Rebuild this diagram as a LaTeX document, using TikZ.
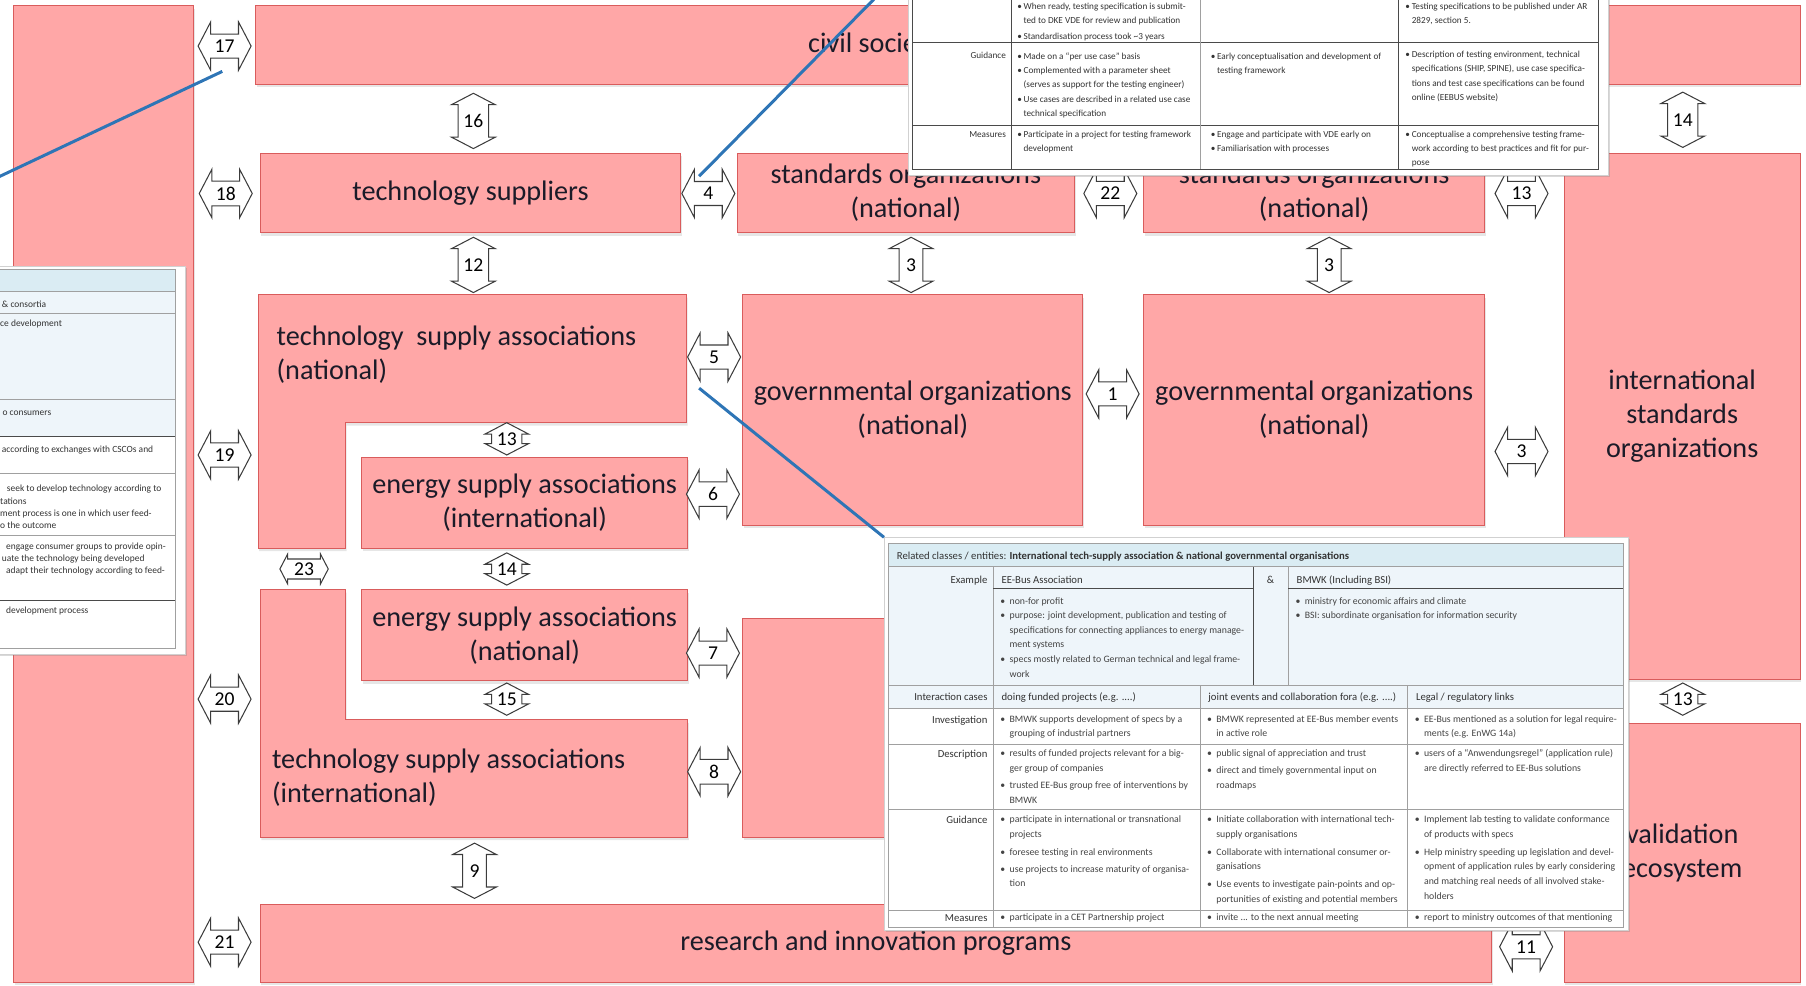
\documentclass[tikz,border=0pt]{standalone}
\usepackage{fontspec}
\setmainfont{Carlito}
\usetikzlibrary{shapes.arrows,shadows,calc}

\definecolor{boxfill}{HTML}{FFA7A7}
\definecolor{boxline}{HTML}{D95C5C}
\definecolor{linkblue}{HTML}{2E75B6}
\definecolor{arrline}{HTML}{3C3C3C}
\definecolor{hdrblue}{HTML}{DAECF3}
\definecolor{rowblue}{HTML}{EEF5FA}
\definecolor{gridgray}{HTML}{A0A0A0}
\definecolor{griddark}{HTML}{4A4A4A}
\definecolor{tabtext}{HTML}{333333}
\definecolor{bultext}{HTML}{444444}
\definecolor{labeltext}{HTML}{1B1B28}

% bullets for the small tables (top/left and bottom panel)
\newcommand{\tbul}{\makebox[5.5pt][l]{•}}
\newcommand{\tind}{\hspace*{5.5pt}}
\newcommand{\bbul}{\makebox[8pt][l]{•}}
\newcommand{\bind}{\hspace*{8pt}}

\tikzset{
  pinkbox/.style={draw=boxline, fill=boxfill, line width=0.8pt,
    drop shadow={shadow xshift=1pt, shadow yshift=-2.5pt, opacity=0.2}},
  boxnode/.style={pinkbox, inner sep=0pt, align=center, text=labeltext,
    font=\fontsize{24.5pt}{29.5pt}\selectfont},
  boxtext/.style={inner sep=0pt, align=left, anchor=west, text=labeltext,
    font=\fontsize{24.5pt}{29.5pt}\selectfont},
  dblarr/.style={double arrow, draw=arrline, fill=white, line width=0.9pt, inner sep=0pt,
    double arrow tip angle=125, text=black, font=\fontsize{17pt}{20pt}\selectfont},
  harr/.style={dblarr, double arrow head extend=6pt, minimum height=46pt, minimum width=42pt},
  sharr/.style={dblarr, double arrow head extend=3pt, minimum height=42pt, minimum width=26pt},
  varr/.style={dblarr, rotate=90, double arrow head extend=4pt, minimum height=48pt, minimum width=38pt},
  svarr/.style={dblarr, rotate=90, double arrow head extend=4pt, minimum height=28pt, minimum width=38pt},
  bluelink/.style={draw=linkblue, line width=2.6pt},
  panel/.style={fill=white, draw=black!18, line width=0.6pt, inner sep=0pt, outer sep=0pt,
    anchor=north west, drop shadow={shadow xshift=1.5pt, shadow yshift=-1.5pt, opacity=0.3}},
  tabline/.style={draw=gridgray, line width=0.6pt},
  tabdark/.style={draw=griddark, line width=0.9pt},
  bcell/.style={anchor=north west, inner sep=0pt, align=left, text=bultext,
    font=\fontsize{8.5pt}{12.7pt}\selectfont},
  bbline/.style={anchor=base west, inner sep=0pt, text=bultext, font=\fontsize{8.5pt}{12.7pt}\selectfont},
  bline/.style={anchor=base west, inner sep=0pt, text=tabtext, font=\fontsize{9.3pt}{12.7pt}\selectfont},
  blabel/.style={anchor=base east, inner sep=0pt, text=tabtext, font=\fontsize{9.3pt}{12.7pt}\selectfont},
  tcell/.style={anchor=north west, inner sep=0pt, align=left, text=tabtext,
    font=\fontsize{8pt}{12.4pt}\selectfont},
  tlabel/.style={anchor=base east, inner sep=0pt, text=tabtext, font=\fontsize{8pt}{12.4pt}\selectfont},
  lcell/.style={anchor=north west, inner sep=0pt, align=left, text=tabtext,
    font=\fontsize{8.2pt}{10.5pt}\selectfont},
  lline/.style={anchor=base west, inner sep=0pt, text=tabtext, font=\fontsize{8.2pt}{10.5pt}\selectfont},
}

\begin{document}
\begin{tikzpicture}[x=1pt,y=-1pt]
\useasboundingbox (0,0) rectangle (1568,856);
\clip (0,0) rectangle (1568,856);

% ---------- actor boxes ----------
\node[boxnode, minimum width=156pt, minimum height=848pt] (leftcol) at (90,429) {};
\node[boxnode, minimum width=1073pt, minimum height=68pt] (civil) at (758.5,39) {civil society};
\node[boxnode, minimum width=205pt, minimum height=68pt] (topright) at (1460.5,39) {};
\node[boxnode, minimum width=365pt, minimum height=69pt] (techsup) at (408.5,167.5) {technology suppliers};
\node[boxnode, minimum width=293pt, minimum height=69pt] (stdA) at (786.5,167.5) {standards organizations\\(national)};
\node[boxnode, minimum width=296pt, minimum height=69pt] (stdB) at (1141,167.5) {standards organizations\\(national)};
\node[boxnode, minimum width=205pt, minimum height=457pt] (intstd) at (1460.5,361.5) {international\\standards\\organizations};

\draw[pinkbox] (224,256) -- (596,256) -- (596,367) -- (300,367) -- (300,476) -- (224,476) -- cycle;
\node[boxtext] (tsaNat) at (240,307.5) {technology\ \ supply associations\\(national)};

\node[boxnode, minimum width=283pt, minimum height=79pt] (esaInt) at (455.5,436.5) {energy supply associations\\(international)};
\node[boxnode, minimum width=295pt, minimum height=200pt] (govA) at (792.5,356) {governmental organizations\\(national)};
\node[boxnode, minimum width=296pt, minimum height=200pt] (govB) at (1141,356) {governmental organizations\\(national)};

\draw[pinkbox] (226,512) -- (300,512) -- (300,625) -- (597,625) -- (597,727) -- (226,727) -- cycle;
\node[boxtext] (tsaInt) at (236,675.5) {technology supply associations\\(international)};

\node[boxnode, minimum width=283pt, minimum height=79pt] (esaNat) at (455.5,551.5) {energy supply associations\\(national)};
\node[boxnode, minimum width=295pt, minimum height=190pt] (midbox) at (792.5,632) {};
\node[boxnode, minimum width=205pt, minimum height=225pt] (valid) at (1460.5,740.5) {validation\\ecosystem};
\node[boxnode, minimum width=1069pt, minimum height=68pt] (research) at (760.5,819) {research and innovation programs};

% ---------- numbered interaction arrows ----------
\node[harr] (a17) at (195,40) {17};
\node[varr] (a16) at (411,105) {\rotatebox{-90}{16}};
\node[harr] (a18) at (196,168) {18};
\node[harr] (a4) at (615,168) {4};
\node[harr] (a22) at (964,168) {22};
\node[harr] (a13t) at (1321,168) {13};
\node[varr] (a14t) at (1461,104) {\rotatebox{-90}{14}};
\node[varr] (a12) at (411,230) {\rotatebox{-90}{12}};
\node[varr] (a3a) at (791,230) {\rotatebox{-90}{3}};
\node[varr] (a3b) at (1154,230) {\rotatebox{-90}{3}};
\node[harr] (a5) at (620,310) {5};
\node[harr] (a1) at (966,342) {1};
\node[harr] (a3c) at (1321,392) {3};
\node[harr] (a19) at (195,395) {19};
\node[svarr] (a13m) at (440,381) {\rotatebox{-90}{13}};
\node[harr] (a6) at (619,429) {6};
\node[sharr] (a23) at (264,494) {23};
\node[svarr] (a14m) at (440,494) {\rotatebox{-90}{14}};
\node[harr] (a7) at (619,567) {7};
\node[harr] (a20) at (195,607) {20};
\node[svarr] (a15) at (440,607) {\rotatebox{-90}{15}};
\node[svarr] (a13b) at (1461,607) {\rotatebox{-90}{13}};
\node[harr] (a8) at (620,670) {8};
\node[varr] (a9) at (412,756) {\rotatebox{-90}{9}};
\node[harr] (a21) at (195,818) {21};
\node[harr] (a11) at (1325,822) {11};

% ---------- detail panels ----------
\node[panel, minimum width=607pt, minimum height=156pt] (tabT) at (789,-4) {};
\node[panel, minimum width=646.5pt, minimum height=341.5pt] (tabB) at (767.5,466.5) {};
\node[panel, minimum width=166.5pt, minimum height=337pt] (tabL) at (-6,231) {};

% ---------- callout lines ----------
\coordinate (c17end) at (-12,158.7);
\coordinate (c4end) at (763,-5);
\draw[bluelink] ($(a17.center)+(-2,22)$) -- (c17end);
\draw[bluelink] ($(a4.center)+(-8,-15)$) -- (c4end);
\draw[bluelink] ($(a5.center)+(-13,27)$) -- (tabB.north west);

% ---------- top panel: testing framework table ----------
\draw[tabdark] (792,-3) -- (792,147) -- (1388,147) -- (1388,-3);
\draw[tabdark] (792,37) -- (1388,37);
\draw[tabdark] (792,109) -- (1388,109);
\draw[tabdark] (878,-3) -- (878,147);
\draw[tabline] (1042,-3) -- (1042,147);
\draw[tabdark] (1214,-3) -- (1214,147);

\node[tcell] (t1b) at (883,-1.0) {\strut\tbul When ready, testing specification is submit-\\%
\tind ted to DKE VDE for review and publication\\[2pt]%
\tbul Standardisation process took \textasciitilde3 years};
\node[tcell] (t1d) at (1220,-1.0) {\strut\tbul Testing specifications to be published under AR\\%
\tind 2829, section 5.};
\node[tlabel] (tG) at (873.5,51.1) {Guidance};
\node[tcell] (tGb) at (883,42.5) {\strut\tbul Made on a “per use case” basis\\%
\tbul Complemented with a parameter sheet\\%
\tind (serves as support for the testing engineer)\\%
\tbul Use cases are described in a related use case\\%
\tind technical specification};
\node[tcell] (tGc) at (1051,42.5) {\strut\tbul Early conceptualisation and development of\\%
\tind testing framework};
\node[tcell] (tGd) at (1220,41) {\strut\tbul Description of testing environment, technical\\%
\tind specifications (SHIP, SPINE), use case specifica-\\%
\tind tions and test case specifications can be found\\%
\tind online (EEBUS website)};
\node[tlabel] (tM) at (873.5,119.1) {Measures};
\node[tcell] (tMb) at (883,110.4) {\strut\tbul Participate in a project for testing framework\\%
\tind development};
\node[tcell] (tMc) at (1051,110.4) {\strut\tbul Engage and participate with VDE early on\\%
\tbul Familiarisation with processes};
\node[tcell] (tMd) at (1220,110.4) {\strut\tbul Conceptualise a comprehensive testing frame-\\%
\tind work according to best practices and fit for pur-\\%
\tind pose};

% ---------- bottom panel: interaction table ----------
\fill[hdrblue] (771,472) rectangle (1409.4,492);
\fill[rowblue] (771,492) rectangle (1409.4,615);
\draw[tabline] (771,472) rectangle (1409.4,805);
\draw[tabline] (771,492) -- (1409.4,492);
\draw[tabline] (771,595) -- (1409.4,595);
\draw[tabline] (771,615) -- (1409.4,615);
\draw[tabline] (771,646) -- (1409.4,646);
\draw[tabline] (771,703) -- (1409.4,703);
\draw[tabline] (771,790) -- (1409.4,790);
\draw[tabline] (862.4,492) -- (862.4,805);
\draw[tabline] (1118.6,492) -- (1118.6,595);
\draw[tabdark] (1088,492) -- (1088,595);
\draw[tabdark] (862.4,511) -- (1088,511);
\draw[tabdark] (1118.6,511) -- (1409.4,511);
\draw[tabline] (1041.9,595) -- (1041.9,805);
\draw[tabline] (1222.2,595) -- (1222.2,805);

\node[bline] (bHead) at (778.5,485.4) {Related classes / entities: \textbf{International tech-supply association \& national governmental organisations}};
\node[blabel] (bEx) at (857.5,506.5) {Example};
\node[bline] (bEEB) at (869.4,506.5) {EE-Bus Association};
\node[anchor=base, inner sep=0pt, text=tabtext, font=\fontsize{9.3pt}{12.7pt}\selectfont] (bAmp) at (1103,506.5) {\&};
\node[bline] (bBM) at (1125.6,506.5) {BMWK (Including BSI)};
\node[bcell] (bExA) at (868.4,515.4) {\strut\bbul non-for profit\\%
\bbul purpose: joint development, publication and testing of\\%
\bind specifications for connecting appliances to energy manage-\\%
\bind ment systems\\%
\bbul specs mostly related to German technical and legal frame-\\%
\bind work};
\node[bcell] (bExB) at (1124.6,515.4) {\strut\bbul ministry for economic affairs and climate\\%
\bbul BSI: subordinate organisation for information security};

\node[blabel] (bIc) at (857.5,608) {Interaction cases};
\node[bline] (bIc1) at (869.4,608) {doing funded projects (e.g. ....)};
\node[bline] (bIc2) at (1048.9,608) {joint events and collaboration fora (e.g. ....)};
\node[bline] (bIc3) at (1229.2,608) {Legal / regulatory links};

\node[blabel] (bInv) at (857.5,628) {Investigation};
\node[bcell] (bInv1) at (868.4,618) {\strut\bbul BMWK supports development of specs by a\\%
\bind grouping of industrial partners};
\node[bcell] (bInv2) at (1047.9,618) {\strut\bbul BMWK represented at EE-Bus member events\\%
\bind in active role};
\node[bcell] (bInv3) at (1228.2,618) {\strut\bbul EE-Bus mentioned as a solution for legal require-\\%
\bind ments (e.g. EnWG 14a)};

\node[blabel] (bDes) at (857.5,658) {Description};
\node[bcell] (bDes1) at (868.4,648) {\strut\bbul results of funded projects relevant for a big-\\%
\bind ger group of companies\\[2pt]%
\bbul trusted EE-Bus group free of interventions by\\%
\bind BMWK};
\node[bcell] (bDes2) at (1047.9,648) {\strut\bbul public signal of appreciation and trust\\[2pt]%
\bbul direct and timely governmental input on\\%
\bind roadmaps};
\node[bcell] (bDes3) at (1228.2,648) {\strut\bbul users of a “Anwendungsregel” (application rule)\\%
\bind are directly referred to EE-Bus solutions};

\node[blabel] (bGui) at (857.5,715) {Guidance};
\node[bcell] (bGui1) at (868.4,705) {\strut\bbul participate in international or transnational\\%
\bind projects\\[3pt]%
\bbul foresee testing in real environments\\[2pt]%
\bbul use projects to increase maturity of organisa-\\%
\bind tion};
\node[bcell] (bGui2) at (1047.9,705) {\strut\bbul Initiate collaboration with international tech-\\%
\bind supply organisations\\[3pt]%
\bbul Collaborate with international consumer or-\\%
\bind ganisations\\[3pt]%
\bbul Use events to investigate pain-points and op-\\%
\bind portunities of existing and potential members};
\node[bcell] (bGui3) at (1228.2,705) {\strut\bbul Implement lab testing to validate conformance\\%
\bind of products with specs\\[3pt]%
\bbul Help ministry speeding up legislation and devel-\\%
\bind opment of application rules by early considering\\%
\bind and matching real needs of all involved stake-\\%
\bind holders};

\node[blabel] (bMea) at (857.5,800) {Measures};
\node[bbline] (bMea1) at (868.4,799) {\bbul participate in a CET Partnership project};
\node[bbline] (bMea2) at (1047.9,799) {\bbul invite ... to the next annual meeting};
\node[bbline] (bMea3) at (1228.2,799) {\bbul report to ministry outcomes of that mentioning};

% ---------- left panel: consumer interaction table ----------
\fill[hdrblue] (-6,234) rectangle (152,253);
\fill[rowblue] (-6,253) rectangle (152,379);
\draw[tabline] (-6,234) -- (152,234) -- (152,563) -- (-6,563);
\draw[tabline] (-6,253) -- (152,253);
\draw[tabline] (-6,272) -- (152,272);
\draw[tabline] (-6,347) -- (152,347);
\draw[tabdark] (-6,379) -- (152,379);
\draw[tabline] (-6,411) -- (152,411);
\draw[tabline] (-6,465) -- (152,465);
\draw[tabdark] (-6,521) -- (152,521);

\node[lline] (l1) at (1.5,266.9) {\& consortia};
\node[lline] (l2) at (0,283.9) {ce development};
\node[lline] (l3) at (2,360.9) {o consumers};
\node[lline] (l4) at (1.5,392.9) {according to exchanges with CSCOs and};
\node[lcell] (l5) at (0,419.6) {\strut\hspace*{5.8pt}seek to develop technology according to\\%
tations\\%
ment process is one in which user feed-\\%
o the outcome};
\node[lcell] (l6) at (0,469.6) {\strut\hspace*{5.2pt}engage consumer groups to provide opin-\\%
\hspace*{1.5pt}uate the technology being developed\\%
\hspace*{5.2pt}adapt their technology according to feed-};
\node[lline] (l7) at (5.2,532.9) {development process};

\end{tikzpicture}
\end{document}
